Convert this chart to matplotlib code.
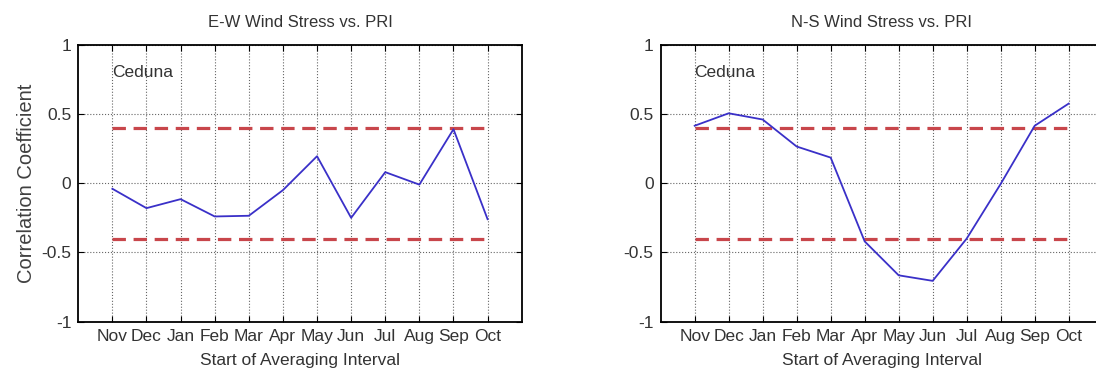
import numpy as np
import matplotlib
matplotlib.use("Agg")
import matplotlib.pyplot as plt

months = ["Nov", "Dec", "Jan", "Feb", "Mar", "Apr", "May", "Jun", "Jul", "Aug", "Sep", "Oct"]
ew_corr = [-0.04, -0.18, -0.115, -0.24, -0.235, -0.05, 0.195, -0.25, 0.08, -0.01, 0.39, -0.26]
ns_corr = [0.415, 0.505, 0.46, 0.265, 0.185, -0.42, -0.665, -0.705, -0.40, -0.005, 0.415, 0.575]
sig_level = 0.4
titles = ["E-W Wind Stress vs. PRI", "N-S Wind Stress vs. PRI"]
station = "Ceduna"

plt.rcParams["font.family"] = ["Liberation Sans", "DejaVu Sans"]
plt.rcParams["axes.unicode_minus"] = False

fig = plt.figure(figsize=(10.96, 3.81), dpi=100)
ax1 = fig.add_axes([0.0714, 0.1556, 0.4046, 0.727])
ax2 = fig.add_axes([0.6028, 0.1556, 0.4033, 0.727])

x = np.arange(1, len(months) + 1)

for ax, vals, title in zip([ax1, ax2], [ew_corr, ns_corr], titles):
    ax.plot(x, vals, color="#3a30c8", lw=1.3, zorder=3)
    for s in (sig_level, -sig_level):
        ln, = ax.plot([x[0], x[-1]], [s, s], color="#c8464b", lw=2.3, zorder=2)
        ln.set_dashes((4.2, 2.4))
    ax.set_xlim(0, 13)
    ax.set_ylim(-1, 1)
    ax.set_xticks(x)
    ax.set_xticklabels(months)
    ax.set_yticks([-1, -0.5, 0, 0.5, 1])
    ax.set_yticklabels(["-1", "-0.5", "0", "0.5", "1"])
    ax.grid(True, linestyle=":", color="0.4", lw=0.8)
    ax.tick_params(direction="in", top=True, right=True, labelsize=12.5,
                   length=4, pad=5, labelcolor="0.2")
    for sp in ax.spines.values():
        sp.set_linewidth(1.3)
    ax.set_title(title, fontsize=12, pad=13, color="0.2")
    ax.set_xlabel("Start of Averaging Interval", fontsize=12.5, labelpad=7, color="0.2")
    ax.text(0.98, 0.8, station, ha="left", va="center", fontsize=12.5, color="0.2")

ax1.set_ylabel("Correlation Coefficient", fontsize=14.5, labelpad=4, color="0.25")

fig.savefig("out.png", dpi=100)
